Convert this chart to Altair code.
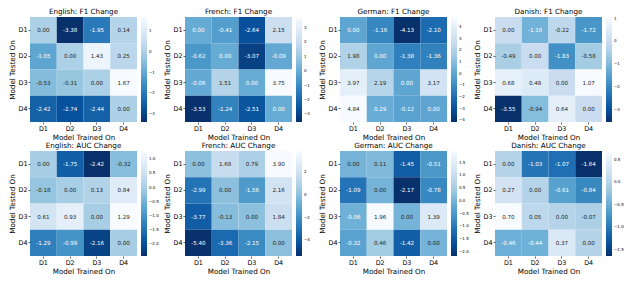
import altair as alt
import numpy as np
import pandas as pd

labels = ["D1", "D2", "D3", "D4"]

titles = ["English: F1 Change", "French: F1 Change", "German: F1 Change", "Danish: F1 Change",
          "English: AUC Change", "French: AUC Change", "German: AUC Change", "Danish: AUC Change"]

english_f1 = [[0.00, -3.38, -1.95, 0.14],
              [-1.05, 0.00, 1.43, 0.25],
              [-0.53, -0.31, 0.00, 1.67],
              [-2.42, -2.74, -2.44, 0.00]]
french_f1 = [[0.00, -0.41, -2.64, 2.15],
             [-0.62, 0.00, -3.07, -0.09],
             [-0.06, 1.51, 0.00, 3.75],
             [-3.53, -1.24, -2.51, 0.00]]
german_f1 = [[0.00, -1.16, -4.13, -2.10],
             [1.98, 0.00, -1.38, -1.36],
             [3.97, 2.19, 0.00, 3.17],
             [4.84, 0.29, -0.12, 0.00]]
danish_f1 = [[0.00, -1.16, -0.22, -1.72],
             [-0.49, 0.00, -1.83, -0.58],
             [0.68, 0.48, 0.00, 1.07],
             [-3.55, -0.94, 0.64, 0.00]]
english_auc = [[0.00, -1.75, -2.42, -0.32],
               [-0.18, 0.00, 0.13, 0.84],
               [0.61, 0.93, 0.00, 1.29],
               [-1.29, -0.99, -2.16, 0.00]]
french_auc = [[0.00, 1.68, 0.79, 3.90],
              [-2.99, 0.00, -1.56, 2.16],
              [-3.77, -0.13, 0.00, 1.84],
              [-5.40, -3.36, -2.15, 0.00]]
german_auc = [[0.00, 0.11, -1.45, -0.51],
              [-1.09, 0.00, -2.17, -0.78],
              [-0.06, 1.96, 0.00, 1.39],
              [-0.32, 0.46, -1.42, 0.00]]
danish_auc = [[0.00, -1.03, -1.07, -1.64],
              [0.27, 0.00, -0.61, -0.84],
              [0.70, 0.05, 0.00, -0.07],
              [-0.46, -0.44, 0.37, 0.00]]

matrices = [english_f1, french_f1, german_f1, danish_f1,
            english_auc, french_auc, german_auc, danish_auc]

tick_english_f1 = [-3, -2, -1, 0, 1]
tick_french_f1 = [-3, -2, -1, 0, 1, 2, 3]
tick_german_f1 = [-4, -3, -2, -1, 0, 1, 2, 3, 4]
tick_danish_f1 = [-3, -2, -1, 0, 1]
tick_english_auc = [-2.0, -1.5, -1.0, -0.5, 0.0, 0.5, 1.0]
tick_french_auc = [-4, -2, 0, 2]
tick_german_auc = [-2.0, -1.5, -1.0, -0.5, 0.0, 0.5, 1.0, 1.5]
tick_danish_auc = [-1.5, -1.0, -0.5, 0.0, 0.5]

ticks = [tick_english_f1, tick_french_f1, tick_german_f1, tick_danish_f1,
         tick_english_auc, tick_french_auc, tick_german_auc, tick_danish_auc]
tick_formats = ["d", "d", "d", "d", ".1f", "d", ".1f", ".1f"]

# matplotlib "Blues_r"
CMAP = ["#08306b", "#08519c", "#2171b5", "#4292c6", "#6baed6",
        "#9ecae1", "#c6dbef", "#deebf7", "#f7fbff"]

FONT = "DejaVu Sans"
W, H = 107, 105


def _rgb(h):
    return np.array([int(h[i:i + 2], 16) for i in (1, 3, 5)]) / 255.0


def is_light(t):
    pos = min(max(t, 0.0), 1.0) * (len(CMAP) - 1)
    i = min(int(np.floor(pos)), len(CMAP) - 2)
    f = pos - i
    c = _rgb(CMAP[i]) * (1 - f) + _rgb(CMAP[i + 1]) * f
    c = np.where(c <= 0.03928, c / 12.92, ((c + 0.055) / 1.055) ** 2.4)
    lum = c.dot([0.2126, 0.7152, 0.0722])
    return bool(lum > 0.408)


def panel(title, mat, tks, fmt):
    vals = [v for row in mat for v in row]
    vmin, vmax = min(vals), max(vals)
    rows = []
    for i, tested in enumerate(labels):
        for j, trained in enumerate(labels):
            v = mat[i][j]
            rows.append(dict(tested=tested, trained=trained, v=v,
                             lbl=f"{v:.2f}",
                             light=is_light((v - vmin) / (vmax - vmin))))
    df = pd.DataFrame(rows)
    dom = [float(d) for d in np.linspace(vmin, vmax, len(CMAP))]
    x = alt.X("trained:O", sort=labels, title="Model Trained On",
              axis=alt.Axis(labelAngle=0))
    y = alt.Y("tested:O", sort=labels, title="Model Tested On",
              axis=alt.Axis(labelAngle=0))
    base = alt.Chart(df)
    rect = base.mark_rect(strokeWidth=0).encode(
        x=x, y=y,
        color=alt.Color("v:Q",
                        scale=alt.Scale(domain=dom, range=CMAP, interpolate="rgb",
                                        nice=False, zero=False),
                        legend=alt.Legend(orient="right", offset=4, padding=0,
                                          gradientLength=H, gradientThickness=6,
                                          gradientStrokeWidth=0,
                                          labelFontSize=4, labelFont=FONT,
                                          labelColor="black", labelOffset=2,
                                          values=tks, format=fmt, title=None,
                                          labelOverlap=False, direction="vertical")))
    text = base.mark_text(font=FONT, fontSize=5.6).encode(
        x=x, y=y, text="lbl:N",
        color=alt.condition(alt.datum.light, alt.value("#262626"), alt.value("white")))
    return alt.layer(rect, text).properties(
        width=W, height=H,
        title=alt.TitleParams(title, font=FONT, fontSize=7.2, fontWeight="normal",
                              color="black", offset=1.5, anchor="middle",
                              frame="group"))


panels = [panel(t, m, tk, f) for t, m, tk, f in zip(titles, matrices, ticks, tick_formats)]

chart = alt.concat(*panels, columns=4, spacing={"row": 29, "column": 48},
                   bounds="flush").resolve_scale(
    color="independent", x="independent", y="independent"
).properties(padding=0).configure_view(stroke=None).configure_axis(
    labelFont=FONT, titleFont=FONT, labelFontSize=6.4, titleFontSize=7.2,
    titleFontWeight="normal", labelColor="black", titleColor="black",
    tickColor="black", tickSize=2, tickWidth=0.6, domain=False,
    labelPadding=1, titlePadding=2
)

chart.save("out.html", embed_options={"renderer": "svg", "actions": False})
